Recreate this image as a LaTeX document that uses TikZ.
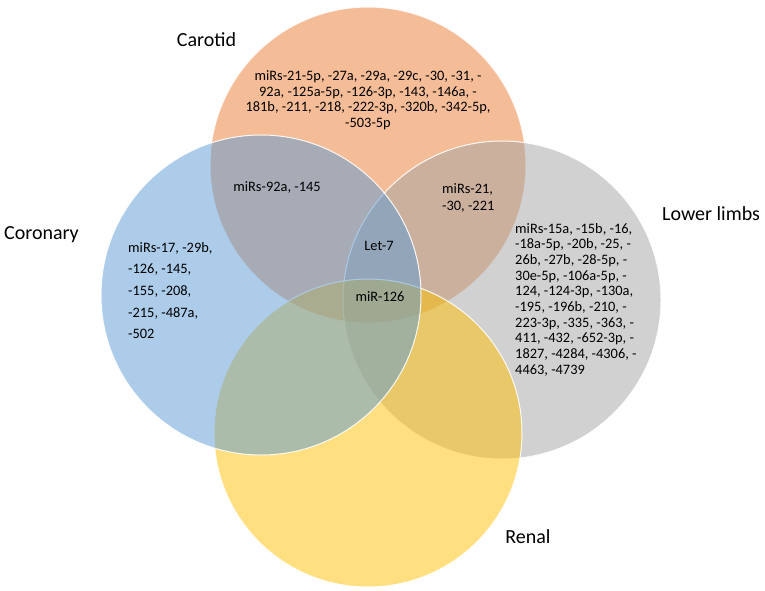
\documentclass[tikz,border=0pt]{standalone}
\usepackage{fontspec}
\setmainfont{Carlito}
\definecolor{cOrange}{HTML}{ED7D31}
\definecolor{cGray}{HTML}{A5A5A5}
\definecolor{cYellow}{HTML}{FFC000}
\definecolor{cBlue}{HTML}{5B9BD5}
\begin{document}
\begin{tikzpicture}[x=1pt,y=-1pt,
  setcirc/.style={fill=#1, fill opacity=0.5, draw=white, draw opacity=0.9, line width=1pt},
  biglabel/.style={font=\fontsize{20}{24}\selectfont, inner sep=0pt, anchor=base},
  mirs/.style={font=\fontsize{14.4}{15.7}\selectfont, inner sep=0pt},
  wide/.style={font=\fontsize{14.4}{21.7}\selectfont, inner sep=0pt}]
\useasboundingbox (0,0) rectangle (765,590);
\fill[white] (0,0) rectangle (765,590);
% sets
\path[setcirc=cOrange] (368,165) circle[radius=158pt];
\path[setcirc=cGray] (502,300) circle[radius=159pt];
\path[setcirc=cYellow] (368,433) circle[radius=154pt];
\path[setcirc=cBlue] (261,295) circle[radius=160pt];
% set names
\node[biglabel] (carotid) at (206.5,46) {Carotid};
\node[biglabel, anchor=base west] (coronary) at (4,239.5) {Coronary};
\node[biglabel, anchor=base west] (lower) at (662,220.5) {Lower limbs};
\node[biglabel] (renal) at (528,543.5) {Renal};
% contents (multi-line nodes are placed by the baseline of their last line)
\node[mirs, align=center, anchor=base] (carlist) at (368,127.6) {miRs-21-5p, -27a, -29a, -29c, -30, -31, -\\92a, -125a-5p, -126-3p, -143, -146a, -\\181b, -211, -218, -222-3p, -320b, -342-5p,\\-503-5p};
\node[mirs, align=left, anchor=base west] (lowlist) at (515,374.3) {miRs-15a, -15b, -16,\\-18a-5p, -20b, -25, -\\26b, -27b, -28-5p, -\\30e-5p, -106a-5p, -\\124, -124-3p, -130a,\\-195, -196b, -210, -\\223-3p, -335, -363, -\\411, -432, -652-3p, -\\1827, -4284, -4306, -\\4463, -4739};
\node[wide, align=left, anchor=base west] (corlist) at (128,338.8) {miRs-17, -29b,\\-126, -145,\\-155, -208,\\-215, -487a,\\-502};
\node[mirs, anchor=base] (carcor) at (277,191) {miRs-92a, -145};
\node[font=\fontsize{14.4}{17.7}\selectfont, inner sep=0pt, align=left, anchor=base west] (carlow) at (442,210.7) {miRs-21,\\-30, -221};
\node[mirs, anchor=base] (let7) at (379,250) {Let-7};
\node[mirs, anchor=base] (mir126) at (380,301) {miR-126};
\end{tikzpicture}
\end{document}
